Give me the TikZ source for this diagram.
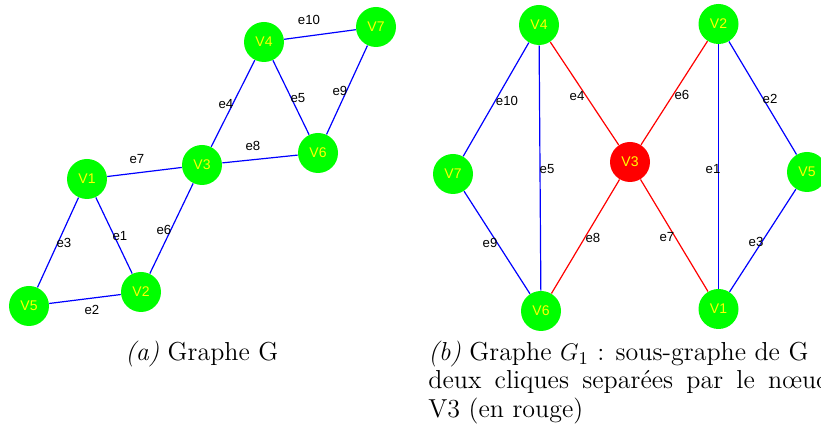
\documentclass[tikz,border=0pt]{standalone}
\usepackage{fontspec}
\newfontfamily\plotfont{Liberation Sans}
\usepackage{tikz}
\usetikzlibrary{calc}
\definecolor{vgreen}{RGB}{0, 255, 0}
\definecolor{vyellow}{RGB}{255, 255, 0}
\definecolor{cutred}{RGB}{255, 0, 0}
\definecolor{edgeblue}{RGB}{0, 0, 255}

\begin{document}
\begin{tikzpicture}[x=0.5pt, y=-0.5pt,
    vertex/.style={circle, fill=vgreen, minimum size=20pt, inner sep=0pt,
      font=\plotfont\fontsize{7}{8}\selectfont, text=vyellow},
    cutvertex/.style={vertex, fill=cutred},
    edge/.style={edgeblue, line width=0.6pt},
    cutedge/.style={cutred, line width=0.6pt},
    elab/.style={font=\plotfont\fontsize{6.6}{8}\selectfont, inner sep=0pt},
    caption/.style={font=\fontsize{13}{15}\selectfont, inner sep=0pt, anchor=base west}]
  \useasboundingbox (0,0) rectangle (821,437);

  % (a) graphe G
  \node (a1) at (87,179) [vertex] {V1};
  \node (a2) at (141,292) [vertex] {V2};
  \node (a3) at (202,165) [vertex] {V3};
  \node (a4) at (264,42) [vertex] {V4};
  \node (a5) at (29,306) [vertex] {V5};
  \node (a6) at (318,153) [vertex] {V6};
  \node (a7) at (376,27) [vertex] {V7};
  \draw[edge] (a1) -- (a2);
  \draw[edge] (a5) -- (a2);
  \draw[edge] (a1) -- (a5);
  \draw[edge] (a3) -- (a4);
  \draw[edge] (a4) -- (a6);
  \draw[edge] (a2) -- (a3);
  \draw[edge] (a1) -- (a3);
  \draw[edge] (a3) -- (a6);
  \draw[edge] (a6) -- (a7);
  \draw[edge] (a4) -- (a7);
  \node (la1) at (120,236) [elab] {e1};
  \node (la2) at (92,310) [elab] {e2};
  \node (la3) at (64,243) [elab] {e3};
  \node (la4) at (226,104) [elab] {e4};
  \node (la5) at (298,98) [elab] {e5};
  \node (la6) at (164,230) [elab] {e6};
  \node (la7) at (137,159) [elab] {e7};
  \node (la8) at (253,146) [elab] {e8};
  \node (la9) at (340,91) [elab] {e9};
  \node (la10) at (309,20) [elab] {e10};

  % (b) graphe G1, V3 en rouge
  \node (b1) at (718.5,309) [vertex] {V1};
  \node (b2) at (718.5,24) [vertex] {V2};
  \node (b3) at (630,162) [cutvertex] {V3};
  \node (b4) at (539,25) [vertex] {V4};
  \node (b5) at (807,172) [vertex] {V5};
  \node (b6) at (541,311) [vertex] {V6};
  \node (b7) at (453,174) [vertex] {V7};
  \draw[edge] (b2) -- (b1);
  \draw[edge] (b2) -- (b5);
  \draw[edge] (b5) -- (b1);
  \draw[cutedge] (b4) -- (b3);
  \draw[edge] (b4) -- (b6);
  \draw[cutedge] (b3) -- (b2);
  \draw[cutedge] (b3) -- (b1);
  \draw[cutedge] (b6) -- (b3);
  \draw[edge] (b7) -- (b6);
  \draw[edge] (b4) -- (b7);
  \node (lb1) at (713,169) [elab] {e1};
  \node (lb2) at (770,99) [elab] {e2};
  \node (lb3) at (756,242) [elab] {e3};
  \node (lb4) at (577,96) [elab] {e4};
  \node (lb5) at (547,169) [elab] {e5};
  \node (lb6) at (682,95) [elab] {e6};
  \node (lb7) at (667,237) [elab] {e7};
  \node (lb8) at (593,238) [elab] {e8};
  \node (lb9) at (490,243) [elab] {e9};
  \node (lb10) at (507,101) [elab] {e10};

  % legendes
  \node (capa) at (125,361) [caption] {\textit{(a)} Graphe G};
  \node (capb1) at (428,361) [caption] {\textit{(b)} Graphe $G_1$ : sous-graphe de G};
  \node (capb2) at (428,389) [caption] {\makebox[201pt][s]{deux cliques separées par le nœud}};
  \node (capb3) at (428,418) [caption] {V3 (en rouge)};
\end{tikzpicture}
\end{document}
